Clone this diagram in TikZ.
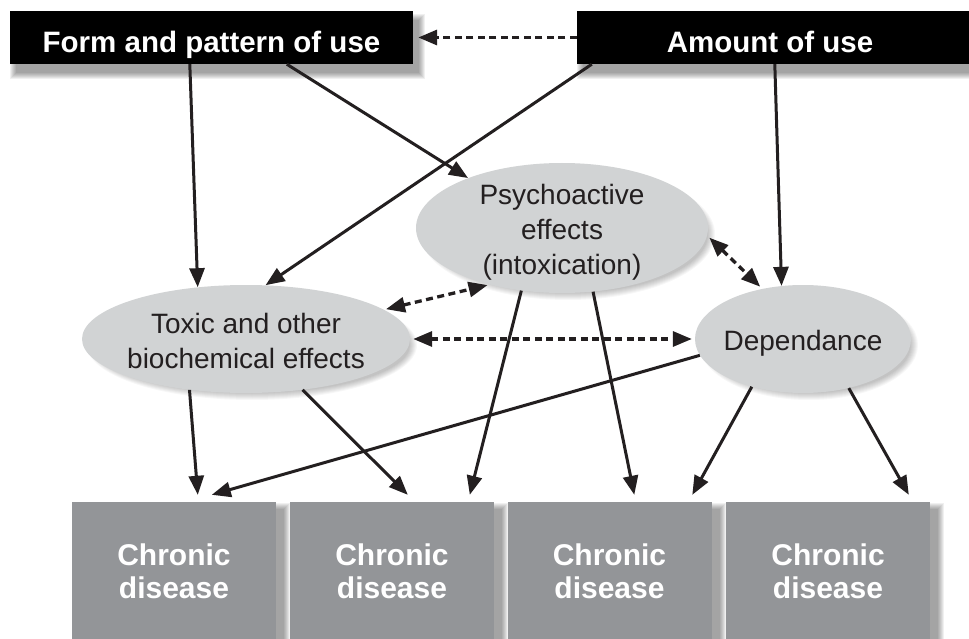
\documentclass[tikz,border=0pt]{standalone}
\usepackage{fontspec}
\setmainfont{Liberation Sans}
\usetikzlibrary{arrows.meta,shapes.geometric,backgrounds}
\definecolor{cgray}{RGB}{147,149,152}
\definecolor{ogray}{RGB}{209,211,212}
\definecolor{tgray}{RGB}{35,31,32}
% soft shadow of a rectangular node: node, xshift, yshift
\newcommand\rectshadow[3]{%
  \foreach \r in {0,...,6}{%
    \fill[black,opacity=0.06] ([xshift={#2-\r pt},yshift={#3-\r pt}]#1.south west)
      rectangle ([xshift={#2+\r pt},yshift={#3+\r pt}]#1.north east);}}
% soft shadow of an elliptic node: node, x radius, y radius, xshift, yshift
\newcommand\ovalshadow[5]{%
  \foreach \r in {0,...,7}{%
    \fill[black,opacity=0.03] ([xshift=#4,yshift=#5]#1.center)
      ellipse [x radius={#2+\r pt}, y radius={#3+\r pt}];}}
\begin{document}
\begin{tikzpicture}[x=1pt,y=-1pt,
  >={Triangle[length=19pt,width=15pt]},
  topbox/.style={rectangle,fill=black,text=white,inner sep=0pt,minimum height=53pt,
    font=\fontsize{29.5}{34}\selectfont\bfseries,text height=31pt,text depth=0pt},
  cbox/.style={rectangle,fill=cgray,text=white,inner sep=0pt,minimum width=204pt,minimum height=138pt,
    align=center,font=\fontsize{30}{33}\selectfont\bfseries},
  oval/.style={ellipse,fill=ogray,inner sep=0pt},
  otext/.style={align=center,inner sep=0pt,text=tgray,font=\fontsize{28}{35}\selectfont},
  arr/.style={->,line width=3pt,draw=tgray},
  darr/.style={line width=3.3pt,dash pattern=on 7pt off 4.5pt,draw=tgray}
]
\useasboundingbox (0,0) rectangle (969,639);

% top boxes
\node[topbox,minimum width=403pt] (form) at (211.5,37.5) {Form and pattern of use};
\node[topbox,minimum width=398pt] (amount) at (776,37.5) {Amount of use\hspace*{12pt}};

% ellipses
\node[oval,minimum width=292pt,minimum height=130pt] (psycho) at (562,228) {};
\node[oval,minimum width=328pt,minimum height=108pt] (toxic) at (246,339) {};
\node[oval,minimum width=216pt,minimum height=108pt] (depend) at (803,339) {};
\node[otext] (psychot) at (562,232) {\baselineskip=36pt Psychoactive\\effects\\(intoxication)};
\node[otext] (toxict) at (246,340.5) {Toxic and other\\biochemical effects};
\node[otext,anchor=base] (dependt) at (803,350) {Dependance};

% chronic disease boxes
\node[cbox] (c1) at (174,571) {Chronic\\disease};
\node[cbox] (c2) at (392,571) {Chronic\\disease};
\node[cbox] (c3) at (609.5,571) {Chronic\\disease};
\node[cbox] (c4) at (828,571) {Chronic\\disease};

% shadows
\begin{scope}[on background layer]
  \fill[white] (0,0) rectangle (969,639);
  \rectshadow{form}{6pt}{-9pt}
  \rectshadow{amount}{6pt}{-9pt}
  \rectshadow{c1}{8pt}{-7pt}
  \rectshadow{c2}{8pt}{-7pt}
  \rectshadow{c3}{8pt}{-7pt}
  \rectshadow{c4}{8pt}{-7pt}
  \ovalshadow{psycho}{140pt}{59pt}{6pt}{-6pt}
  \ovalshadow{toxic}{158pt}{48pt}{6pt}{-6pt}
  \ovalshadow{depend}{102pt}{48pt}{6pt}{-6pt}
\end{scope}

% solid arrows
\draw[arr] ([xshift=180pt]form.south west) -- (toxic.133);
\draw[arr] ([xshift=277pt]form.south west) -- (psycho.152);
\draw[arr] ([xshift=15pt]amount.south west) -- (toxic.70);
\draw[arr] ([xshift=198pt]amount.south west) -- (depend.112);
\draw[arr] (toxic.222) -- ([xshift=126pt,yshift=7pt]c1.north west);
\draw[arr] (toxic.318) -- ([xshift=118pt,yshift=7pt]c2.north west);
\draw[arr] (psycho.237) -- ([xshift=180pt,yshift=7pt]c2.north west);
\draw[arr] (psycho.296) -- ([xshift=127pt,yshift=7pt]c3.north west);
\draw[arr] (depend.189) -- ([xshift=140pt,yshift=7pt]c1.north west);
\draw[arr] (depend.223) -- ([xshift=185pt,yshift=7pt]c3.north west);
\draw[arr] (depend.313) -- ([xshift=183pt,yshift=7pt]c4.north west);

% dashed arrows
\draw[darr,->,shorten >=5pt] (amount.west) -- (form.east);
\draw[darr,<->,shorten >=3pt,shorten <=3pt] (psycho.-3) -- (depend.129);
\draw[darr,<->,shorten >=2pt,shorten <=2pt] (toxic.12) -- (psycho.218);
\draw[darr,<->,shorten >=3pt,shorten <=3pt] (toxic.east) -- (depend.west);
\end{tikzpicture}
\end{document}
